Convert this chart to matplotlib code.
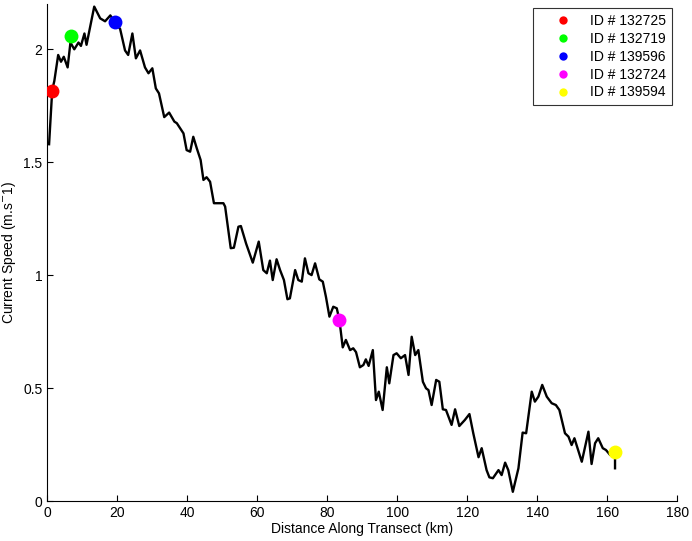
import matplotlib
matplotlib.use("Agg")
import matplotlib.pyplot as plt

dist_km = [0.5, 1.4, 2.0, 3.1, 3.9, 4.7, 5.8, 6.6, 7.7, 8.9, 9.6, 10.6, 11.2, 13.4,
           15.1, 16.5, 18.0, 19.3, 20.8, 22.2, 23.1, 24.3, 25.3, 26.5, 27.9, 28.9,
           30.0, 31.0, 31.9, 33.4, 34.8, 36.3, 37.0, 38.9, 39.8, 40.8, 41.7, 42.7,
           43.8, 44.6, 45.5, 46.5, 47.6, 50.3, 50.8, 52.4, 53.3, 54.6, 55.3, 56.8,
           58.7, 60.4, 61.7, 62.7, 63.6, 64.4, 65.5, 66.5, 67.6, 68.6, 69.3, 70.8,
           71.7, 72.7, 73.6, 74.6, 75.5, 76.5, 77.7, 78.7, 79.6, 80.6, 81.7, 82.7,
           83.4, 83.8, 84.4, 85.3, 86.5, 87.4, 88.2, 89.3, 90.3, 91.0, 91.8, 93.0,
           93.9, 94.7, 95.8, 97.0, 97.7, 98.9, 99.8, 101.0, 102.2, 103.2, 104.1,
           105.1, 106.0, 107.3, 108.2, 108.9, 109.8, 111.1, 112.0, 113.0, 113.9,
           115.5, 116.5, 117.7, 119.3, 120.6, 121.7, 123.2, 124.1, 125.5, 126.3,
           127.3, 128.9, 129.8, 130.8, 131.7, 133.0, 134.6, 135.8, 136.8, 138.4,
           139.3, 140.3, 141.4, 142.7, 144.1, 145.3, 146.3, 147.9, 148.9, 149.8,
           150.6, 152.7, 154.6, 155.5, 156.5, 157.4, 158.7, 159.6, 160.8, 162.2,
           162.2]
speed = [1.58, 1.82, 1.86, 1.975, 1.945, 1.967, 1.92, 2.03, 2.0, 2.03, 2.015, 2.07,
         2.02, 2.189, 2.137, 2.124, 2.15, 2.12, 2.09, 1.995, 1.975, 2.07, 1.96,
         1.995, 1.92, 1.894, 1.916, 1.827, 1.805, 1.70, 1.72, 1.68, 1.673, 1.628,
         1.554, 1.547, 1.613, 1.562, 1.51, 1.422, 1.434, 1.414, 1.319, 1.319,
         1.304, 1.12, 1.122, 1.215, 1.218, 1.14, 1.056, 1.149, 1.023, 1.009, 1.065,
         0.979, 1.071, 1.023, 0.979, 0.894, 0.898, 1.023, 0.979, 0.972, 1.075,
         1.009, 1.001, 1.053, 0.982, 0.972, 0.905, 0.817, 0.861, 0.854, 0.805,
         0.758, 0.681, 0.714, 0.669, 0.677, 0.66, 0.593, 0.603, 0.628, 0.599,
         0.669, 0.448, 0.485, 0.404, 0.593, 0.522, 0.647, 0.655, 0.633, 0.647,
         0.559, 0.728, 0.647, 0.669, 0.529, 0.5, 0.492, 0.426, 0.537, 0.529, 0.407,
         0.404, 0.338, 0.407, 0.333, 0.36, 0.386, 0.301, 0.195, 0.235, 0.138,
         0.106, 0.102, 0.138, 0.116, 0.171, 0.138, 0.042, 0.146, 0.304, 0.301,
         0.485, 0.441, 0.463, 0.515, 0.463, 0.434, 0.426, 0.404, 0.301, 0.286,
         0.249, 0.279, 0.175, 0.308, 0.165, 0.257, 0.279, 0.235, 0.227, 0.205,
         0.224, 0.146]

station_ids = ["ID # 132725", "ID # 132719", "ID # 139596", "ID # 132724", "ID # 139594"]
station_km = [1.4, 6.8, 19.3, 83.4, 162.2]
station_speed = [1.815, 2.06, 2.12, 0.80, 0.22]
station_colors = ["#ff0000", "#00ff00", "#0000ff", "#ff00ff", "#ffff00"]

x_ticks = [0, 20, 40, 60, 80, 100, 120, 140, 160, 180]
y_ticks = [0, 0.5, 1, 1.5, 2]

plt.rcParams['font.family'] = ['Liberation Sans', 'DejaVu Sans']
fig = plt.figure(figsize=(6.92, 5.41), dpi=100)
ax = fig.add_axes([0.0684, 0.0734, 0.9104, 0.919])

ax.plot(dist_km, speed, color='black', linewidth=1.7, zorder=2)
for sid, xk, yv, c in zip(station_ids, station_km, station_speed, station_colors):
    ax.plot([xk], [yv], 'o', color=c, markersize=10, label=sid, zorder=3,
            markeredgewidth=0)

ax.set_xlim(0, 180)
ax.set_ylim(0, 2.2)
ax.set_xticks(x_ticks)
ax.set_yticks(y_ticks)
ax.set_yticklabels(['0', '0.5', '1', '1.5', '2'])
ax.spines['top'].set_visible(False)
ax.spines['right'].set_visible(False)
ax.tick_params(direction='in', length=4, labelsize=10, width=0.8)
ax.set_xlabel('Distance Along Transect (km)', fontsize=10, labelpad=1)
ax.set_ylabel('Current Speed (m.s$^{-}$1)', fontsize=10, labelpad=4)

leg = ax.legend(loc='upper right', bbox_to_anchor=(0.9915, 0.9915), fontsize=10,
                markerscale=0.6, frameon=True, fancybox=False, edgecolor='black',
                handlelength=3.5, handletextpad=0.22, borderpad=0.4, labelspacing=0.28,
                borderaxespad=0)
leg.get_frame().set_linewidth(0.8)

fig.savefig('out.png', dpi=100)
